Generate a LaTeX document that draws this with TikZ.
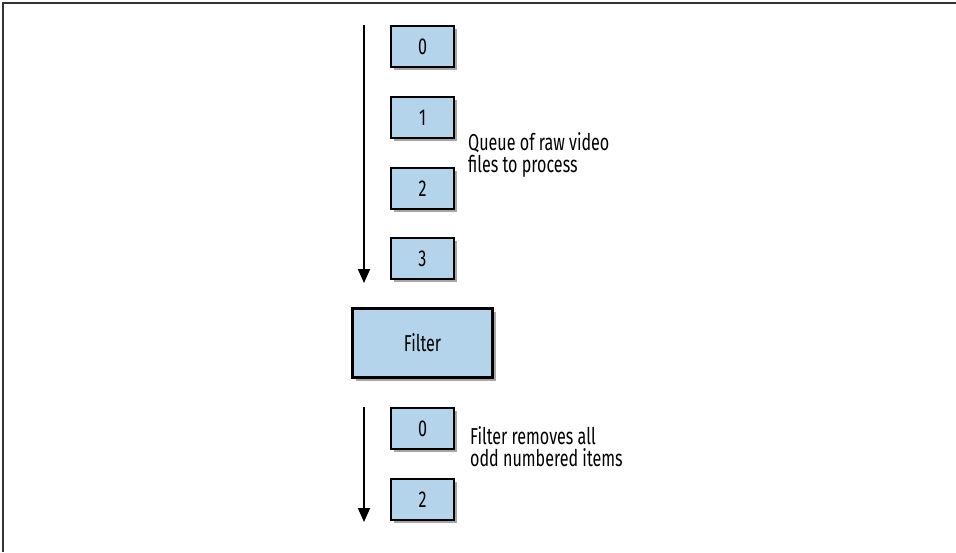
\documentclass[tikz,border=0pt]{standalone}
\usepackage{fontspec}
\setmainfont[FakeStretch=0.7]{Fira Sans}
\usetikzlibrary{shadows,arrows.meta}
\definecolor{boxblue}{HTML}{B3D4EA}
\tikzset{
  item/.style={draw=black, line width=2.2pt, fill=boxblue, minimum width=63pt, minimum height=41pt, inner sep=0pt,
    drop shadow={shadow xshift=3pt, shadow yshift=-3pt, fill=black, opacity=0.35}, font=\fontsize{23}{26}\selectfont},
  flow/.style={line width=1.8pt, -{Triangle[length=14pt,width=12pt]}},
  note/.style={align=left, anchor=north west, inner sep=0pt, font=\fontsize{23}{22}\selectfont}
}
\begin{document}
\begin{tikzpicture}[x=1pt,y=-1pt]
\useasboundingbox (0,0) rectangle (956,552);
\draw[line width=1.5pt, black!80] (3,552) -- (3,3) -- (956,3);
\node[item] (q0) at (422.5,46.5) {0};
\node[item] (q1) at (422.5,117.5) {1};
\node[item] (q2) at (422.5,188.5) {2};
\node[item] (q3) at (422.5,258.5) {3};
\node[item, minimum width=140pt, minimum height=69pt] (filter) at (422.5,343) {Filter};
\node[item] (r0) at (422.5,428.5) {0};
\node[item] (r2) at (422.5,499.5) {2};
\coordinate (a1s) at (364,25);
\coordinate (a1e) at (364,283);
\coordinate (a2s) at (364,407);
\coordinate (a2e) at (364,522);
\draw[flow] (a1s) -- (a1e);
\draw[flow] (a2s) -- (a2e);
\node[note] (qnote) at (468,132) {Queue of raw video\\files to process};
\node[note] (fnote) at (470,426) {Filter removes all\\odd numbered items};
\end{tikzpicture}
\end{document}
